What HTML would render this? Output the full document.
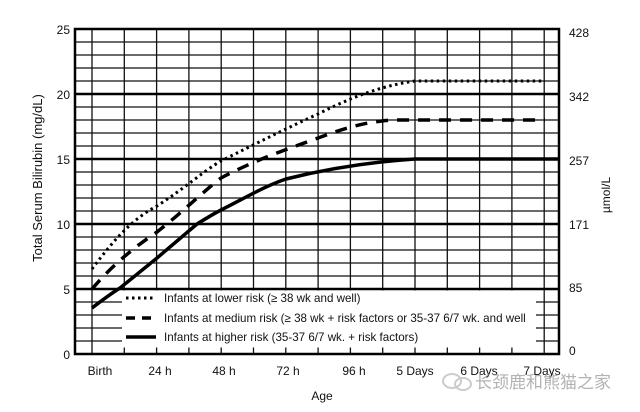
<!DOCTYPE html>
<html><head><meta charset="utf-8"><style>
html,body{margin:0;padding:0;background:#fff;}
svg{display:block;font-family:"Liberation Sans","Noto Sans CJK SC",sans-serif;}
</style></head><body>
<svg width="640" height="412" viewBox="0 0 640 412" xmlns="http://www.w3.org/2000/svg">
<rect width="640" height="412" fill="#fff"/>
<g stroke="#111" stroke-width="1.3">
<line x1="75" x2="559" y1="42" y2="42"/><line x1="75" x2="559" y1="55" y2="55"/><line x1="75" x2="559" y1="68" y2="68"/><line x1="75" x2="559" y1="81" y2="81"/>
<line x1="75" x2="559" y1="107" y2="107"/><line x1="75" x2="559" y1="120" y2="120"/><line x1="75" x2="559" y1="133" y2="133"/><line x1="75" x2="559" y1="146" y2="146"/>
<line x1="75" x2="559" y1="172" y2="172"/><line x1="75" x2="559" y1="185" y2="185"/><line x1="75" x2="559" y1="198" y2="198"/><line x1="75" x2="559" y1="211" y2="211"/>
<line x1="75" x2="559" y1="237" y2="237"/><line x1="75" x2="559" y1="250" y2="250"/><line x1="75" x2="559" y1="263" y2="263"/><line x1="75" x2="559" y1="276" y2="276"/>
<line x1="75" x2="559" y1="302" y2="302"/><line x1="75" x2="559" y1="315" y2="315"/><line x1="75" x2="559" y1="328" y2="328"/><line x1="75" x2="559" y1="341" y2="341"/>
<line y1="29" y2="354" x1="92" x2="92"/><line y1="29" y2="354" x1="124.3" x2="124.3"/><line y1="29" y2="354" x1="156.6" x2="156.6"/><line y1="29" y2="354" x1="188.9" x2="188.9"/><line y1="29" y2="354" x1="221.2" x2="221.2"/><line y1="29" y2="354" x1="253.5" x2="253.5"/><line y1="29" y2="354" x1="285.8" x2="285.8"/><line y1="29" y2="354" x1="318.1" x2="318.1"/><line y1="29" y2="354" x1="350.4" x2="350.4"/><line y1="29" y2="354" x1="382.7" x2="382.7"/><line y1="29" y2="354" x1="415" x2="415"/><line y1="29" y2="354" x1="447.3" x2="447.3"/><line y1="29" y2="354" x1="479.6" x2="479.6"/><line y1="29" y2="354" x1="511.9" x2="511.9"/><line y1="29" y2="354" x1="544.2" x2="544.2"/>
</g>
<g stroke="#000" stroke-width="2.6">
<line x1="75" x2="559" y1="94" y2="94"/><line x1="75" x2="559" y1="159" y2="159"/><line x1="75" x2="559" y1="224" y2="224"/><line x1="75" x2="559" y1="289" y2="289"/>
</g>
<rect x="122" y="290.5" width="414" height="57" fill="#fff"/>
<g fill="none" stroke="#000" stroke-linejoin="round">
<path d="M92,269 C110,245 130,220 157,206 C185,188 205,170 221,161 C255,144 285,129 318,114 C350,98 380,86 415,81 L545,81" stroke-width="3" stroke-dasharray="2.5,3.5"/>
<path d="M92,289 C110,268 130,250 157,232 C185,210 205,190 221,178 C255,160 285,150 318,138 C345,128 370,120 400,120 L545,120" stroke-width="3.5" stroke-dasharray="12,9"/>
<path d="M92,308 C105,298 112,293 120,288 L157,258 L197,224 C210,216 215,213 221,210 C245,198 265,186 286,179 C330,168 370,162 415,159 L559,159" stroke-width="3.5"/>
</g>
<rect x="75" y="29" width="484" height="325" fill="none" stroke="#000" stroke-width="2.5"/>
<g stroke="#000" stroke-width="3.5">
<line x1="126" y1="298" x2="156" y2="298" stroke-width="3" stroke-dasharray="2.5,3.5"/>
<line x1="126" y1="318" x2="156" y2="318" stroke-dasharray="9,7"/>
<line x1="126" y1="337" x2="156" y2="337"/>
</g>
<g font-size="11.6" fill="#111">
<text x="164" y="302">Infants at lower risk (≥ 38 wk and well)</text>
<text x="164" y="322">Infants at medium risk (≥ 38 wk + risk factors or 35-37 6/7 wk. and well</text>
<text x="164" y="341">Infants at higher risk (35-37 6/7 wk. + risk factors)</text>
</g>
<g font-size="12" fill="#111" text-anchor="end">
<text x="70" y="34">25</text><text x="70" y="99">20</text><text x="70" y="164">15</text><text x="70" y="229">10</text><text x="70" y="294">5</text><text x="70" y="359">0</text>
</g>
<g font-size="12" fill="#111">
<text x="569" y="37">428</text><text x="569" y="101">342</text><text x="569" y="165">257</text><text x="569" y="229">171</text><text x="569" y="292">85</text><text x="569" y="355">0</text>
</g>
<g font-size="12" fill="#111" text-anchor="middle">
<text x="100" y="375">Birth</text><text x="160" y="375">24 h</text><text x="224" y="375">48 h</text><text x="288" y="375">72 h</text><text x="354" y="375">96 h</text><text x="415" y="375">5 Days</text><text x="479" y="375">6 Days</text><text x="542" y="375">7 Days</text>
<text x="322" y="400">Age</text>
<text transform="translate(42,178) rotate(-90)" font-size="13">Total Serum Bilirubin (mg/dL)</text>
<text transform="translate(610,195) rotate(-90)">µmol/L</text>
</g>
<g opacity="0.75">
<ellipse cx="452" cy="381" rx="9" ry="7" fill="none" stroke="#bbb" stroke-width="2"/>
<ellipse cx="463" cy="384" rx="8" ry="6" fill="none" stroke="#bbb" stroke-width="2"/>
<text x="475" y="388" font-size="17" fill="#999">长颈鹿和熊猫之家</text>
</g>
</svg>
</body></html>
